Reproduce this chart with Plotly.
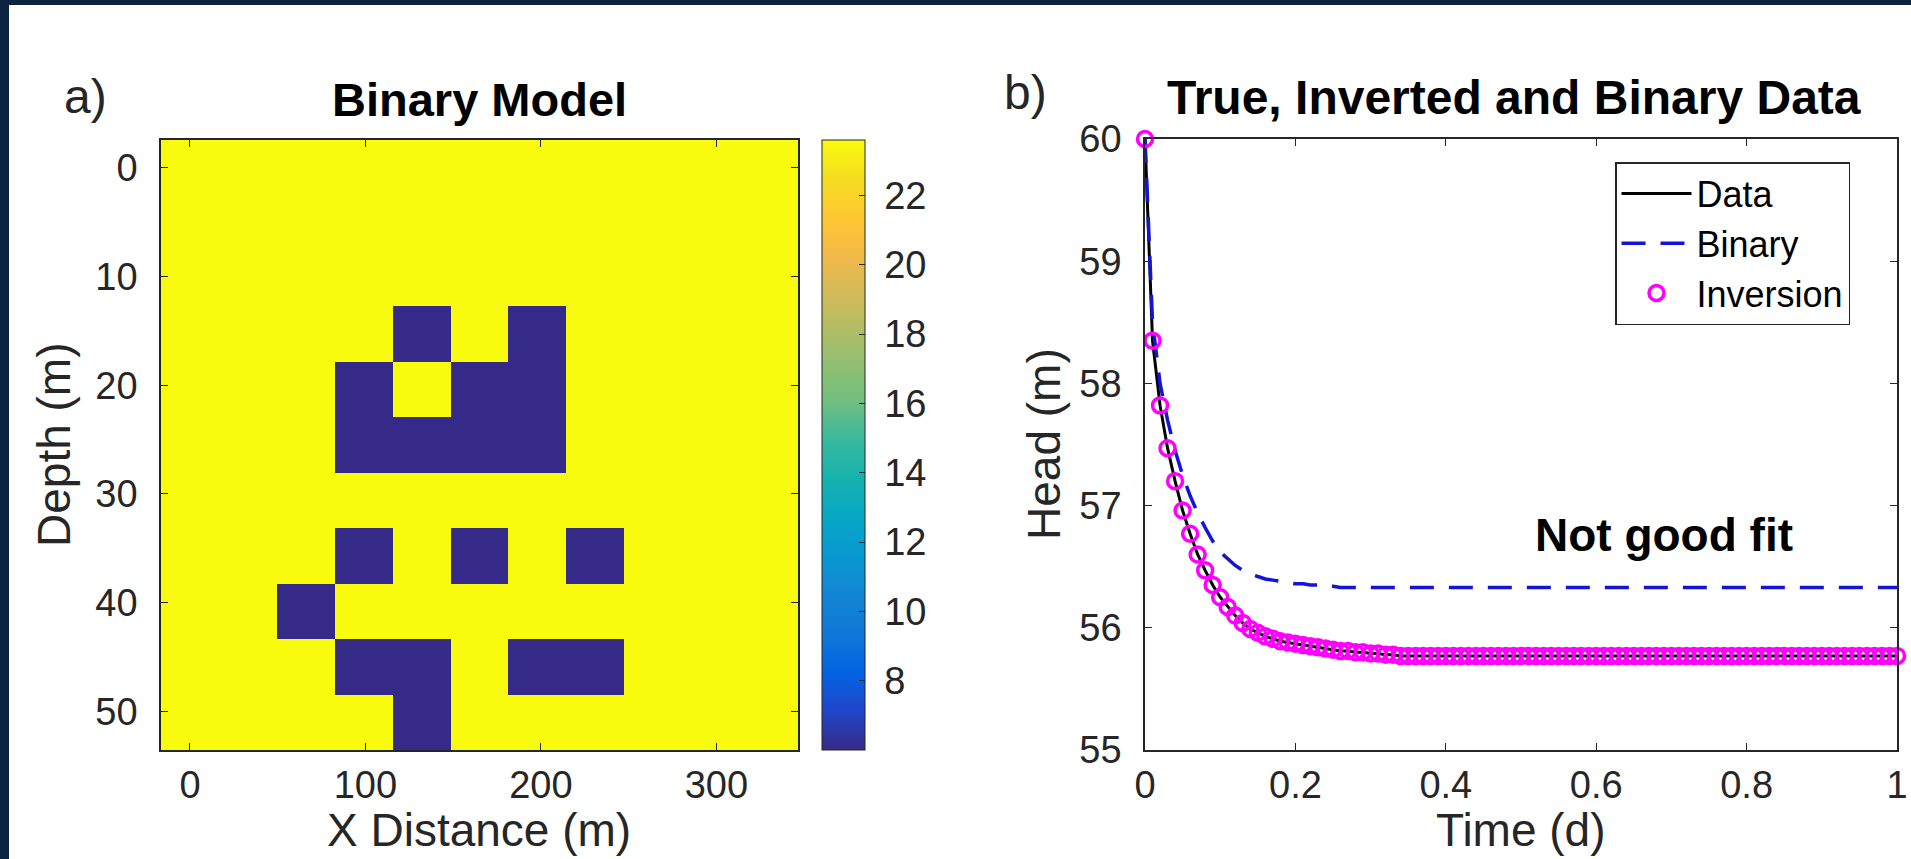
import plotly.graph_objects as go

# ---------------- data ----------------
# Binary model (depth rows x distance columns)
x_dist = [0, 33, 66, 99, 132, 165, 198, 231, 264, 297, 330]
depth = [0, 5.1, 10.2, 15.3, 20.4, 25.5, 30.6, 35.7, 40.8, 45.9, 51.0]
H = 23.6   # yellow (high)
L = 6.0    # blue (low)
model = [
    [H, H, H, H, H, H, H, H, H, H, H],
    [H, H, H, H, H, H, H, H, H, H, H],
    [H, H, H, H, H, H, H, H, H, H, H],
    [H, H, H, H, L, H, L, H, H, H, H],
    [H, H, H, L, H, L, L, H, H, H, H],
    [H, H, H, L, L, L, L, H, H, H, H],
    [H, H, H, H, H, H, H, H, H, H, H],
    [H, H, H, L, H, L, H, L, H, H, H],
    [H, H, L, H, H, H, H, H, H, H, H],
    [H, H, H, L, L, H, L, L, H, H, H],
    [H, H, H, H, L, H, H, H, H, H, H],
]
cbar_ticks = [8, 10, 12, 14, 16, 18, 20, 22]

# Head time series
time_d = [0.00, 0.01, 0.02, 0.03, 0.04, 0.05, 0.06, 0.07, 0.08, 0.09,
          0.10, 0.11, 0.12, 0.13, 0.14, 0.15, 0.16, 0.17, 0.18, 0.19,
          0.20, 0.21, 0.22, 0.23, 0.24, 0.25, 0.26, 0.27, 0.28, 0.29,
          0.30, 0.31, 0.32, 0.33, 0.34, 0.35, 0.36, 0.37, 0.38, 0.39,
          0.40, 0.41, 0.42, 0.43, 0.44, 0.45, 0.46, 0.47, 0.48, 0.49,
          0.50, 0.51, 0.52, 0.53, 0.54, 0.55, 0.56, 0.57, 0.58, 0.59,
          0.60, 0.61, 0.62, 0.63, 0.64, 0.65, 0.66, 0.67, 0.68, 0.69,
          0.70, 0.71, 0.72, 0.73, 0.74, 0.75, 0.76, 0.77, 0.78, 0.79,
          0.80, 0.81, 0.82, 0.83, 0.84, 0.85, 0.86, 0.87, 0.88, 0.89,
          0.90, 0.91, 0.92, 0.93, 0.94, 0.95, 0.96, 0.97, 0.98, 0.99,
          1.00]
head_data = [60.00, 58.35, 57.82, 57.47, 57.20, 56.96, 56.77, 56.60, 56.47, 56.35,
             56.25, 56.17, 56.10, 56.04, 55.99, 55.96, 55.93, 55.91, 55.89, 55.88,
             55.87, 55.86, 55.85, 55.84, 55.83, 55.82, 55.81, 55.81, 55.80, 55.80,
             55.79, 55.79, 55.78, 55.78, 55.77, 55.77, 55.77, 55.77, 55.77, 55.77,
             55.77, 55.77, 55.77, 55.77, 55.77, 55.77, 55.77, 55.77, 55.77, 55.77,
             55.77, 55.77, 55.77, 55.77, 55.77, 55.77, 55.77, 55.77, 55.77, 55.77,
             55.77, 55.77, 55.77, 55.77, 55.77, 55.77, 55.77, 55.77, 55.77, 55.77,
             55.77, 55.77, 55.77, 55.77, 55.77, 55.77, 55.77, 55.77, 55.77, 55.77,
             55.77, 55.77, 55.77, 55.77, 55.77, 55.77, 55.77, 55.77, 55.77, 55.77,
             55.77, 55.77, 55.77, 55.77, 55.77, 55.77, 55.77, 55.77, 55.77, 55.77,
             55.77]
head_inversion = [60.00, 58.35, 57.82, 57.47, 57.20, 56.96, 56.77, 56.60, 56.47, 56.35,
                  56.25, 56.17, 56.10, 56.04, 55.99, 55.96, 55.93, 55.91, 55.89, 55.88,
                  55.87, 55.86, 55.85, 55.84, 55.83, 55.82, 55.81, 55.81, 55.80, 55.80,
                  55.79, 55.79, 55.78, 55.78, 55.77, 55.77, 55.77, 55.77, 55.77, 55.77,
                  55.77, 55.77, 55.77, 55.77, 55.77, 55.77, 55.77, 55.77, 55.77, 55.77,
                  55.77, 55.77, 55.77, 55.77, 55.77, 55.77, 55.77, 55.77, 55.77, 55.77,
                  55.77, 55.77, 55.77, 55.77, 55.77, 55.77, 55.77, 55.77, 55.77, 55.77,
                  55.77, 55.77, 55.77, 55.77, 55.77, 55.77, 55.77, 55.77, 55.77, 55.77,
                  55.77, 55.77, 55.77, 55.77, 55.77, 55.77, 55.77, 55.77, 55.77, 55.77,
                  55.77, 55.77, 55.77, 55.77, 55.77, 55.77, 55.77, 55.77, 55.77, 55.77,
                  55.77]
head_binary = [60.00, 58.50, 58.00, 57.70, 57.45, 57.25, 57.08, 56.94, 56.82, 56.71,
               56.62, 56.56, 56.51, 56.47, 56.44, 56.42, 56.40, 56.39, 56.38, 56.37,
               56.36, 56.36, 56.35, 56.35, 56.34, 56.34, 56.33, 56.33, 56.33, 56.33,
               56.33, 56.33, 56.33, 56.33, 56.33, 56.33, 56.33, 56.33, 56.33, 56.33,
               56.33, 56.33, 56.33, 56.33, 56.33, 56.33, 56.33, 56.33, 56.33, 56.33,
               56.33, 56.33, 56.33, 56.33, 56.33, 56.33, 56.33, 56.33, 56.33, 56.33,
               56.33, 56.33, 56.33, 56.33, 56.33, 56.33, 56.33, 56.33, 56.33, 56.33,
               56.33, 56.33, 56.33, 56.33, 56.33, 56.33, 56.33, 56.33, 56.33, 56.33,
               56.33, 56.33, 56.33, 56.33, 56.33, 56.33, 56.33, 56.33, 56.33, 56.33,
               56.33, 56.33, 56.33, 56.33, 56.33, 56.33, 56.33, 56.33, 56.33, 56.33,
               56.33]
time_ticks = [0, 0.2, 0.4, 0.6, 0.8, 1]
time_ticklabels = ["0", "0.2", "0.4", "0.6", "0.8", "1"]
head_ticks = [55, 56, 57, 58, 59, 60]

# ---------------- style ----------------
W, Hh = 1911, 859
FONT = "Liberation Sans, Arial, Helvetica, sans-serif"
AX = "#262626"
NAVY = "#0c2341"


def px(x):
    return x / W


def py(y):
    return 1 - y / Hh


parula = [
    [0.000, "rgb(53,42,135)"],
    [0.063, "rgb(33,70,200)"],
    [0.127, "rgb(3,99,225)"],
    [0.190, "rgb(16,120,217)"],
    [0.254, "rgb(20,133,212)"],
    [0.317, "rgb(9,152,209)"],
    [0.381, "rgb(6,167,198)"],
    [0.444, "rgb(22,178,174)"],
    [0.508, "rgb(56,185,158)"],
    [0.571, "rgb(113,191,128)"],
    [0.635, "rgb(146,191,115)"],
    [0.698, "rgb(183,189,100)"],
    [0.746, "rgb(209,187,89)"],
    [0.794, "rgb(233,185,78)"],
    [0.825, "rgb(248,187,68)"],
    [0.873, "rgb(254,200,50)"],
    [0.937, "rgb(245,222,33)"],
    [1.000, "rgb(249,251,14)"],
]

fig = go.Figure()

fig.add_trace(go.Heatmap(
    x=x_dist, y=depth, z=model,
    zmin=L, zmax=H, colorscale=parula,
    xaxis="x", yaxis="y", showlegend=False, hoverinfo="skip",
    colorbar=dict(
        x=px(822), xanchor="left",
        y=py(140), yanchor="top",
        len=610 / Hh, lenmode="fraction",
        thickness=43, thicknessmode="pixels",
        xpad=0, ypad=0,
        outlinewidth=1, outlinecolor=AX,
        ticks="inside", ticklen=6, tickcolor=AX, tickwidth=1,
        tickvals=cbar_ticks,
        ticktext=["\u00a0" + str(v) for v in cbar_ticks],
        tickfont=dict(family=FONT, size=38, color=AX),
    ),
))

fig.add_trace(go.Scatter(
    x=time_d, y=head_data, mode="lines", name="Data",
    line=dict(color="black", width=3),
    xaxis="x2", yaxis="y2",
))
fig.add_trace(go.Scatter(
    x=time_d, y=head_binary, mode="lines", name="Binary",
    line=dict(color="#1414d8", width=3.5, dash="24px,15px"),
    xaxis="x2", yaxis="y2",
))
fig.add_trace(go.Scatter(
    x=time_d, y=head_inversion, mode="markers", name="Inversion",
    marker=dict(symbol="circle-open", size=15, color="#ff00ff",
                line=dict(color="#ff00ff", width=3.5)),
    cliponaxis=False,
    xaxis="x2", yaxis="y2",
))

axis_common = dict(
    showline=True, linecolor=AX, linewidth=1.5, mirror="ticks",
    ticks="inside", ticklen=7, tickcolor=AX, tickwidth=1.2,
    showgrid=False, zeroline=False,
    tickfont=dict(family=FONT, size=38, color=AX),
)

fig.update_layout(
    width=W, height=Hh, autosize=False,
    margin=dict(l=0, r=0, t=0, b=0, pad=0, autoexpand=False),
    paper_bgcolor="white", plot_bgcolor="white",
    xaxis=dict(domain=[px(161), px(798)], anchor="y",
               range=[-16.5, 346.5], tickvals=[0, 100, 200, 300],
               ticklabelstandoff=1, automargin=False, **axis_common),
    yaxis=dict(domain=[py(750), py(140)], anchor="x",
               range=[53.55, -2.55], tickvals=[0, 10, 20, 30, 40, 50],
               ticklabelstandoff=14, automargin=False, **axis_common),
    xaxis2=dict(domain=[px(1145), px(1897)], anchor="y2",
                range=[0, 1], tickvals=time_ticks, ticktext=time_ticklabels,
                ticklabelstandoff=1, automargin=False, **axis_common),
    yaxis2=dict(domain=[py(750), py(139)], anchor="x2",
                range=[55, 60], tickvals=head_ticks,
                ticklabelstandoff=14, automargin=False, **axis_common),
    legend=dict(
        x=px(1615), xanchor="left", y=py(162), yanchor="top",
        bgcolor="white", bordercolor=AX, borderwidth=1.5,
        font=dict(family=FONT, size=36, color="black"),
        itemwidth=70, tracegroupgap=0,
    ),
    showlegend=True,
)

ann = []


def add_text(text, x, y, size, bold=False, angle=0, xanchor="center",
             yanchor="middle"):
    ann.append(dict(
        text=("<b>" + text + "</b>") if bold else text,
        x=px(x), y=py(y), xref="paper", yref="paper",
        xanchor=xanchor, yanchor=yanchor, showarrow=False,
        textangle=angle,
        font=dict(family=FONT, size=size, color="black" if bold else AX),
    ))


add_text("a)", 85, 96, 48)
add_text("b)", 1025, 92, 48)
add_text("Binary Model", 479, 100, 47, bold=True)
add_text("True, Inverted and Binary Data", 1514, 97, 48, bold=True)
add_text("X Distance (m)", 479, 858, 46, yanchor="bottom")
add_text("Time (d)", 1521, 858, 46, yanchor="bottom")
add_text("Depth (m)", 54, 445, 46, angle=-90)
add_text("Head (m)", 1044, 444, 46, angle=-90)
ann.append(dict(
    text="<b>Not good fit</b>", x=0.69, y=56.76, xref="x2", yref="y2",
    xanchor="center", yanchor="middle", showarrow=False,
    font=dict(family=FONT, size=46, color="black"),
))

fig.update_layout(annotations=ann)

fig.update_layout(shapes=[
    dict(type="rect", xref="paper", yref="paper", x0=0, x1=px(9), y0=0, y1=1,
         fillcolor=NAVY, line=dict(width=0), layer="above"),
    dict(type="rect", xref="paper", yref="paper", x0=0, x1=1, y0=py(5), y1=1,
         fillcolor=NAVY, line=dict(width=0), layer="above"),
])

fig.write_html(
    "out.html",
    post_script="document.body.style.margin='0';document.body.style.overflow='hidden';",
)
